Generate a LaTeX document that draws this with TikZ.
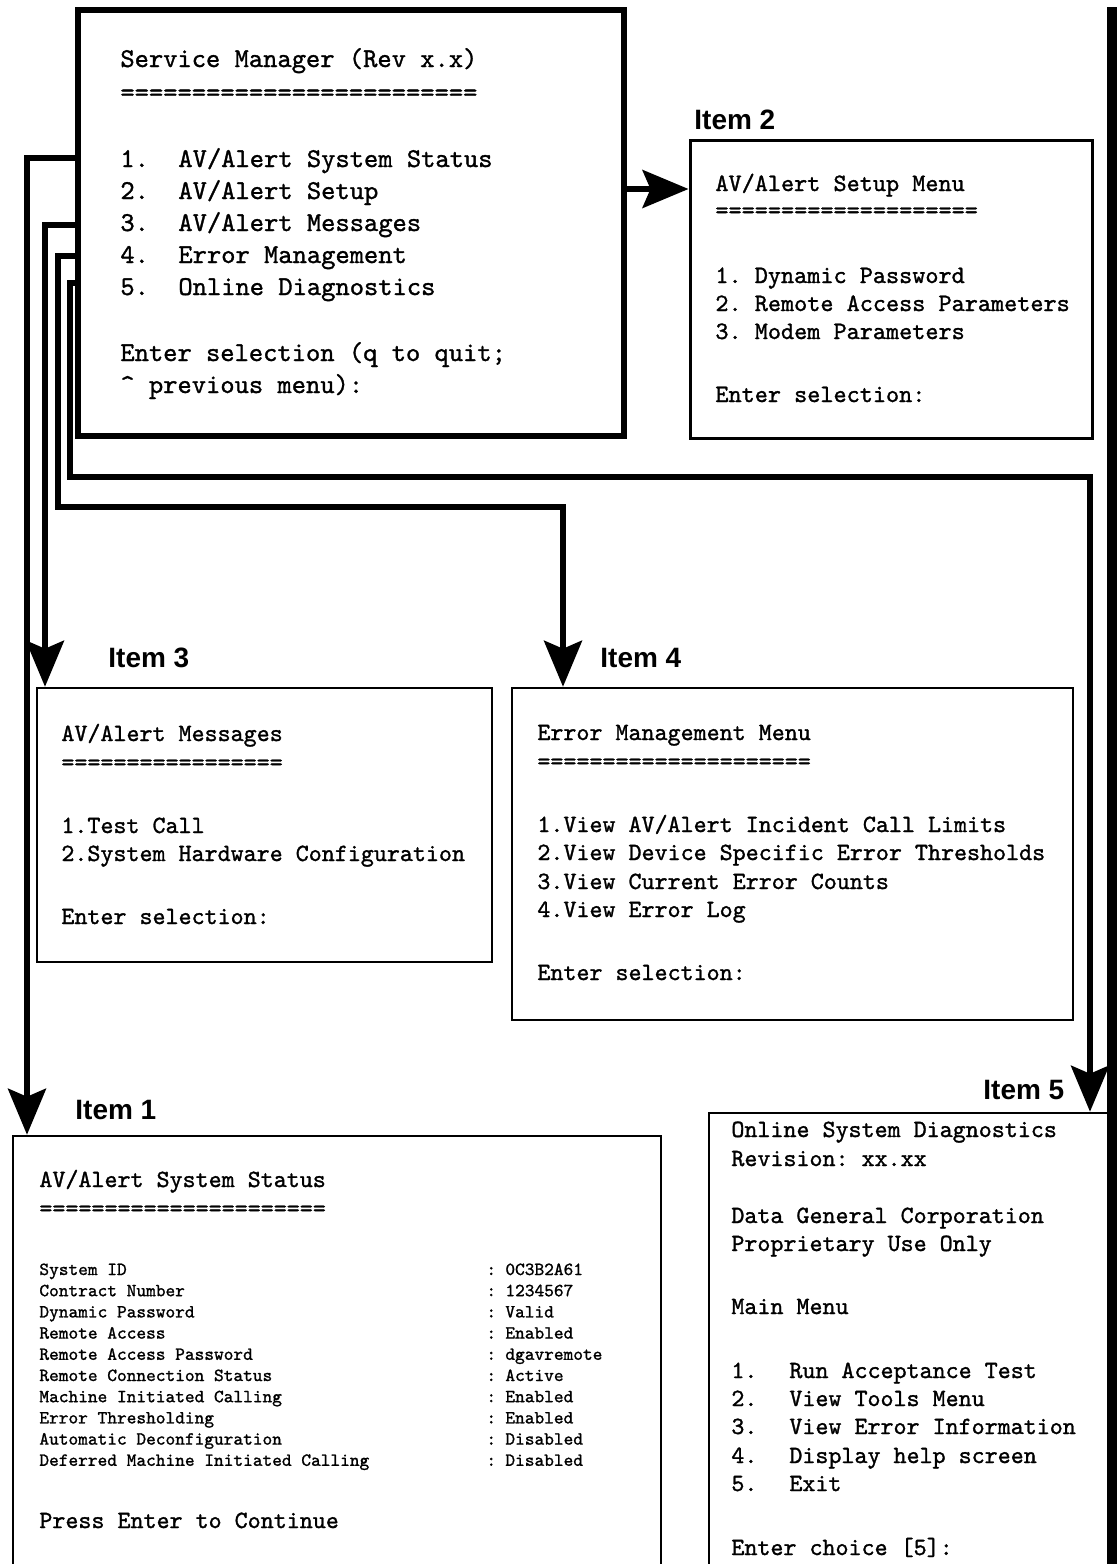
\documentclass[tikz,border=0pt]{standalone}
\usepackage{fontspec}
\setmonofont{lmmono10-regular.otf}[FakeBold=1.2]
\newfontfamily\labelfont{Liberation Sans}
\usetikzlibrary{arrows.meta,fit}

\tikzset{
  frame/.style={draw, line width=1.3pt, inner sep=0pt},
  mainframe/.style={draw, line width=2.6pt, inner sep=0pt},
  conn/.style={line width=2.7pt, -{Stealth[length=23pt,width=19pt,inset=4pt]}},
  itemlabel/.style={anchor=west, inner sep=0pt, font=\labelfont\bfseries\fontsize{14}{14}\selectfont},
  bigtt/.style={anchor=base west, inner sep=0pt, font=\ttfamily\fontsize{13.6}{16}\selectfont},
  midtt/.style={anchor=base west, inner sep=0pt, font=\ttfamily\fontsize{12.4}{15}\selectfont},
  setuptt/.style={anchor=base west, inner sep=0pt, font=\ttfamily\fontsize{12.5}{15}\selectfont},
  smalltt/.style={anchor=base west, inner sep=0pt, font=\ttfamily\fontsize{9.24}{11}\selectfont},
}

\begin{document}
\begin{tikzpicture}[x=0.5pt, y=-0.5pt]
\useasboundingbox (0,0) rectangle (1118,1564);
\fill[white] (0,0) rectangle (1118,1564);

% screen frames
\node[mainframe, fit={(78,10)(624,436)}] (main) {};
\node[frame, line width=1.5pt, fit={(690,140)(1092,438)}] (item2) {};
\node[frame, fit={(37,688)(492,962)}] (item3) {};
\node[frame, fit={(512,688)(1073,1020)}] (item4) {};
\node[frame, fit={(13,1136)(661,1572)}] (item1) {};
\node[frame, fit={(709,1113)(1108,1572)}] (item5) {};

% heavy rule along the right edge
\fill (1107,7) rectangle (1117,1564);

% item captions
\node[itemlabel] (cap2) at (694,120) {Item 2};
\node[itemlabel] (cap3) at (108,658) {Item 3};
\node[itemlabel] (cap4) at (600,658) {Item 4};
\node[itemlabel] (cap1) at (75,1110) {Item 1};
\node[itemlabel] (cap5) at (983,1090) {Item 5};

% Service Manager main menu
\node[bigtt] (mt) at (120,67) {Service Manager (Rev x.x)};
\node[bigtt] (mu) at (120,101) {=========================};
\foreach \y/\n/\t [count=\k] in {167/1./{AV/Alert System Status},
    199/2./{AV/Alert Setup}, 231/3./{AV/Alert Messages},
    263/4./{Error Management}, 295/5./{Online Diagnostics}} {
  \node[bigtt] (mn\k) at (120,\y) {\n};
  \node[bigtt] (mi\k) at (178,\y) {\t};
}
\node[bigtt] (mp1) at (120,361) {Enter selection (q to quit;};
\node[bigtt] (mp2) at (120,393) {\textasciicircum{} previous menu):};

% AV/Alert Setup Menu
\foreach \y/\t [count=\k] in {191/{AV/Alert Setup Menu},
    218/{====================}, 283/{1. Dynamic Password},
    311/{2. Remote Access Parameters}, 339/{3. Modem Parameters},
    402/{Enter selection:}} {
  \node[setuptt] (s\k) at (715,\y) {\t};
}

% AV/Alert Messages
\foreach \y/\t [count=\k] in {741/{AV/Alert Messages},
    770/{=================}, 833/{1.Test Call},
    861/{2.System Hardware Configuration}, 924/{Enter selection:}} {
  \node[midtt] (g\k) at (61,\y) {\t};
}

% Error Management Menu
\foreach \y/\t [count=\k] in {740/{Error Management Menu},
    769/{=====================}, 832/{1.View AV/Alert Incident Call Limits},
    860/{2.View Device Specific Error Thresholds},
    889/{3.View Current Error Counts}, 917/{4.View Error Log},
    980/{Enter selection:}} {
  \node[midtt] (e\k) at (537,\y) {\t};
}

% AV/Alert System Status
\node[midtt] (st) at (39,1187) {AV/Alert System Status};
\node[midtt] (su) at (39,1216) {======================};
\foreach \t/\v [count=\k] in {{System ID}/0C3B2A61, {Contract Number}/1234567,
    {Dynamic Password}/Valid, {Remote Access}/Enabled,
    {Remote Access Password}/dgavremote, {Remote Connection Status}/Active,
    {Machine Initiated Calling}/Enabled, {Error Thresholding}/Enabled,
    {Automatic Deconfiguration}/Disabled,
    {Deferred Machine Initiated Calling}/Disabled} {
  \node[smalltt] (sk\k) at (39,{1275+21.2*(\k-1)}) {\t};
  \node[smalltt] (sc\k) at (486,{1275+21.2*(\k-1)}) {:};
  \node[smalltt] (sv\k) at (505,{1275+21.2*(\k-1)}) {\v};
}
\node[midtt] (sp) at (39,1528) {Press Enter to Continue};

% Online System Diagnostics
\foreach \y/\t [count=\k] in {1137/{Online System Diagnostics},
    1166/{Revision: xx.xx}, 1223/{Data General Corporation},
    1251/{Proprietary Use Only}, 1314/{Main Menu},
    1555/{Enter choice [5]:}} {
  \node[midtt] (d\k) at (731,\y) {\t};
}
\foreach \y/\n/\t [count=\k] in {1378/1./{Run Acceptance Test},
    1406/2./{View Tools Menu}, 1434/3./{View Error Information},
    1463/4./{Display help screen}, 1491/5./Exit} {
  \node[midtt] (dn\k) at (731,\y) {\n};
  \node[midtt] (di\k) at (789,\y) {\t};
}

% menu connectors
\draw[conn] (main.east |- 0,189) -- (item2.west |- 0,189);
\draw[conn] (main.west |- 0,158) -| (item1.north -| 27,0);
\draw[conn] (main.west |- 0,225) -| (item3.north -| 45,0);
\draw[conn] (main.west |- 0,256) -| (58,507) -| (item4.north -| 563,0);
\draw[conn] (main.west |- 0,283) -| (70,477) -| (item5.north -| 1090,0);
\end{tikzpicture}
\end{document}
